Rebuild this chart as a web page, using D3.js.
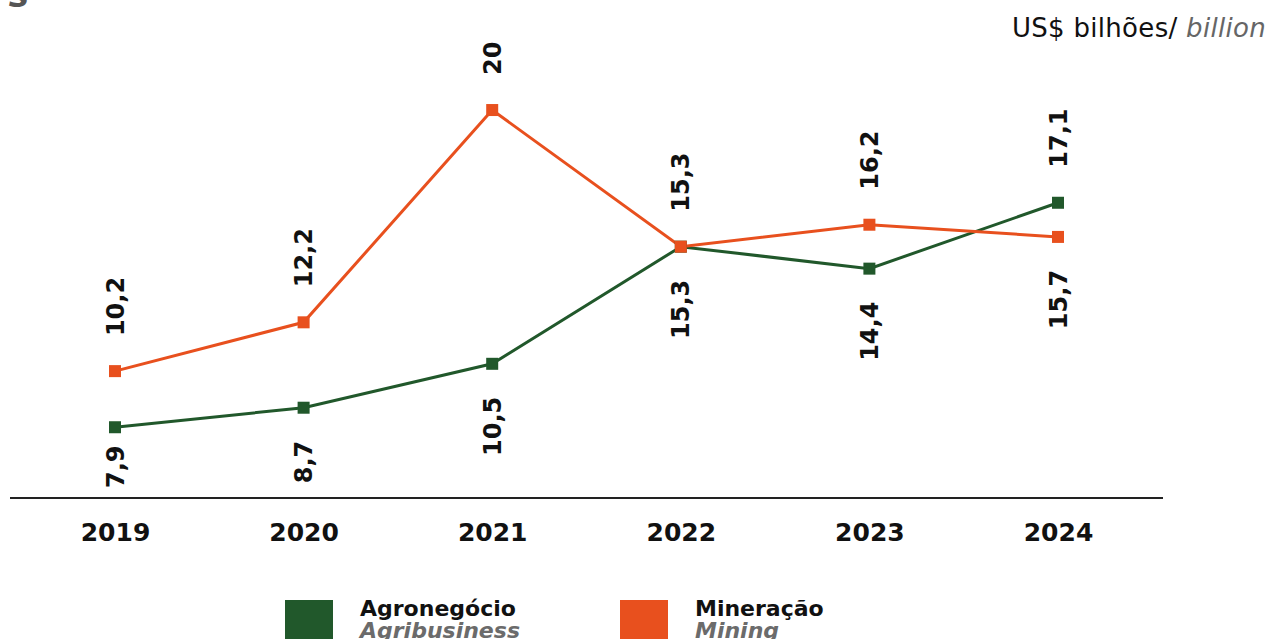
<!DOCTYPE html>
<html lang="pt">
<head>
<meta charset="utf-8">
<title>Agronegócio x Mineração</title>
<style>
  body { margin: 0; background: #fff; }
  svg { display: block; font-family: "DejaVu Sans", Verdana, sans-serif; }
  .val { font-size: 24px; font-weight: bold; fill: #111; }
  .year { font-size: 25px; font-weight: bold; fill: #111; }
  .leg-main { font-size: 22px; font-weight: bold; fill: #111; }
  .leg-sub { font-size: 22px; font-weight: bold; font-style: italic; fill: #6b6b6b; }
</style>
</head>
<body>
<div id="chart"></div>
<script src="https://d3js.org/d3.v7.min.js"></script>
<script>
// values
var years = ['2019', '2020', '2021', '2022', '2023', '2024'];
var agro = [7.9, 8.7, 10.5, 15.3, 14.4, 17.1];
var mining = [10.2, 12.2, 20.9, 15.3, 16.2, 15.7];
var agroLabels = ['7,9', '8,7', '10,5', '15,3', '14,4', '17,1'];
var miningLabels = ['10,2', '12,2', '20', '15,3', '16,2', '15,7'];
var seriesNames = ['Agronegócio', 'Mineração'];
var seriesSub = ['Agribusiness', 'Mining'];
var colors = ['#21582b', '#e8501e'];

var width = 1270, height = 639;
var axisY = 498;

var svg = d3.select('#chart').append('svg')
  .attr('width', width)
  .attr('height', height);

var x = d3.scalePoint().domain(years).range([115, 1058]);
var y = d3.scaleLinear().domain([5, 25]).range([axisY, 10]);

// cut-off title fragment at the top left
svg.append('text')
  .attr('x', 29).attr('y', 7)
  .attr('text-anchor', 'end')
  .style('font-size', '34px').style('font-weight', 'bold').style('font-style', 'italic')
  .style('fill', '#555')
  .text('s');

// unit
var unit = svg.append('text')
  .attr('x', 1266).attr('y', 37)
  .attr('text-anchor', 'end')
  .style('font-size', '26px').style('letter-spacing', '0.3px').style('fill', '#111');
unit.append('tspan').text('US$ bilhões/ ');
unit.append('tspan').style('font-style', 'italic').style('fill', '#666').text('billion');

// x axis
var xAxis = svg.append('g')
  .attr('transform', 'translate(0,' + axisY + ')')
  .call(d3.axisBottom(x).tickSize(0).tickPadding(0));
xAxis.select('.domain').remove();
xAxis.append('line')
  .attr('x1', 10).attr('x2', 1163)
  .attr('stroke', '#222').attr('stroke-width', 2);
xAxis.selectAll('.tick text')
  .attr('class', 'year')
  .attr('dy', null)
  .attr('y', 43);
xAxis.attr('font-size', null).attr('font-family', null);

var series = [
  { name: seriesNames[0], values: agro, labels: agroLabels, color: colors[0] },
  { name: seriesNames[1], values: mining, labels: miningLabels, color: colors[1] }
];

var line = d3.line()
  .x(function(d, i) { return x(years[i]); })
  .y(function(d) { return y(d); });

series.forEach(function(s) {
  svg.append('path')
    .datum(s.values)
    .attr('fill', 'none')
    .attr('stroke', s.color)
    .attr('stroke-width', 3)
    .attr('d', line);
});

series.forEach(function(s) {
  svg.selectAll(null)
    .data(s.values)
    .enter().append('rect')
    .attr('x', function(d, i) { return x(years[i]) - 6; })
    .attr('y', function(d) { return y(d) - 6; })
    .attr('width', 12).attr('height', 12)
    .attr('fill', s.color);
});

// value labels, rotated; the higher point of each year gets its label above
years.forEach(function(yr, i) {
  var a = agro[i], m = mining[i];
  var upper = m >= a ? 1 : 0;
  var lower = 1 - upper;
  var up = series[upper], lo = series[lower];
  var px = x(yr);

  var yUp = y(up.values[i]) - 35;
  svg.append('text')
    .attr('class', 'val')
    .attr('text-anchor', 'start')
    .attr('dy', '0.36em')
    .attr('transform', 'translate(' + px + ',' + yUp + ') rotate(-90)')
    .text(up.labels[i]);

  var t = svg.append('text')
    .attr('class', 'val')
    .attr('text-anchor', 'end')
    .attr('dy', '0.36em')
    .text(lo.labels[i]);
  var len = t.node().getComputedTextLength();
  var top = Math.min(y(lo.values[i]) + 33, axisY - 10 - len);
  t.attr('transform', 'translate(' + px + ',' + top + ') rotate(-90)');
});

// legend
var legend = svg.selectAll('.legend')
  .data(series)
  .enter().append('g')
  .attr('class', 'legend')
  .attr('transform', function(d, i) { return 'translate(' + (285 + i * 335) + ',600)'; });

legend.append('rect')
  .attr('width', 48).attr('height', 44)
  .attr('fill', function(d) { return d.color; });

legend.append('text')
  .attr('class', 'leg-main')
  .attr('x', 75).attr('y', 16)
  .text(function(d) { return d.name; });

legend.append('text')
  .attr('class', 'leg-sub')
  .attr('x', 75).attr('y', 38)
  .text(function(d, i) { return seriesSub[i]; });
</script>
</body>
</html>
